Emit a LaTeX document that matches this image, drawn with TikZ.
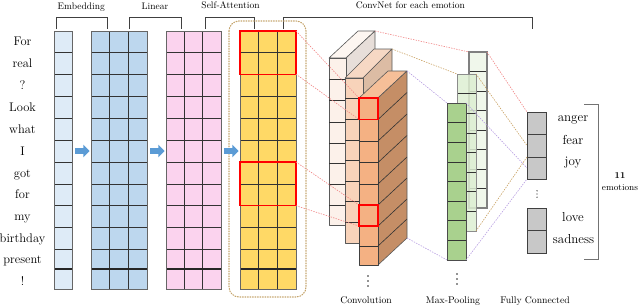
\documentclass[tikz,border=0pt]{standalone}
\usetikzlibrary{calc}
\definecolor{embc}{HTML}{DEEBF7}
\definecolor{linc}{HTML}{BDD7EE}
\definecolor{pinkc}{HTML}{FBD3EE}
\definecolor{yelc}{HTML}{FFD966}
\definecolor{bafront}{HTML}{FCF1EA}
\definecolor{batop}{HTML}{FDF6F1}
\definecolor{baside}{HTML}{E7DED9}
\definecolor{bbfront}{HTML}{F8D3BA}
\definecolor{bbtop}{HTML}{F6D8C4}
\definecolor{bbside}{HTML}{DCBCA4}
\definecolor{bcfront}{HTML}{F4B183}
\definecolor{bctop}{HTML}{F6BF98}
\definecolor{bcside}{HTML}{C58E66}
\definecolor{gac}{HTML}{F0F7EB}
\definecolor{gbc}{HTML}{DDEED2}
\definecolor{gcc}{HTML}{A9D18E}
\definecolor{fcc}{HTML}{C8C8C8}
\definecolor{reddash}{HTML}{F08585}
\definecolor{tandash}{HTML}{C8A060}
\definecolor{purpdash}{HTML}{B49AE0}
\definecolor{arrowc}{HTML}{5B9BD5}
\definecolor{attc}{HTML}{C4A46C}
\newcommand\hlines[3]{\edef\myylist{#3}\foreach \yy in \myylist \draw[gridln] (#1,\yy) -- (#2,\yy);}
\newcommand\vlines[3]{\edef\myxlist{#3}\foreach \xx in \myxlist \draw[gridln] (\xx,#1) -- (\xx,#2);}
\newcommand\dotcol[2]{\foreach \dd in {-5,0,5} \fill[black!85] (#1,#2+\dd) circle (0.85pt);}
\begin{document}
\begin{tikzpicture}[x=1pt,y=-1pt,
  colfill/.style={inner sep=0pt, outer sep=0pt, anchor=north west},
  colborder/.style={draw=black!60, line width=0.9pt},
  gridln/.style={black!80, line width=0.6pt},
  bracketln/.style={draw=black!75, line width=0.8pt},
  toplabel/.style={font=\fontsize{9.5}{11}\selectfont, inner sep=0pt, anchor=base},
  botlabel/.style={font=\fontsize{9.7}{11}\selectfont, inner sep=0pt, anchor=base},
  word/.style={font=\fontsize{12.5}{14}\selectfont, inner sep=0pt, anchor=base},
  emo/.style={font=\fontsize{13}{15}\selectfont, inner sep=0pt, anchor=base},
  redbox/.style={draw=red, line width=1.4pt, inner sep=0pt, outer sep=0pt, anchor=north west},
  conn/.style={line width=0.6pt, dash pattern=on 1.4pt off 1.2pt},
  blockln/.style={draw=black!65, line width=0.6pt, line join=round},
  fcbox/.style={draw=black!75, line width=0.8pt, fill=fcc, inner sep=0pt, outer sep=0pt, anchor=north west, minimum width=19pt},
]
\useasboundingbox (0,0) rectangle (640,306);

% ---------- top brackets and labels
\draw[bracketln] (56,29) -- (56,17) -- (107,17) -- (107,29);
\draw[bracketln] (129,29) -- (129,17) -- (181,17) -- (181,29);
\draw[bracketln] (205,29) -- (205,17) -- (254,17) -- (254,29);
\draw[bracketln] (283,29) -- (283,17) -- (532,17) -- (532,29);
\node[toplabel] (lemb) at (81.3,9) {Embedding};
\node[toplabel] (llin) at (155,9) {Linear};
\node[toplabel] (latt) at (230.5,8.5) {Self-Attention};
\node[toplabel] (lcnn) at (410.3,8.5) {ConvNet for each emotion};

% ---------- words
\foreach \w/\yb [count=\i] in {For/45.7,real/67.3,?/89.1,Look/111,what/133,I/155,got/177,for/198.9,my/220.6,birthday/242.3,present/263,!/285}
  \node[word] (w\i) at (22.5,\yb) {\w};

% ---------- attention dotted frame
\draw[attc, line width=1.1pt, dash pattern=on 0.9pt off 1.6pt, line cap=round, rounded corners=10pt] (229,21) rectangle (306,297);

\def\rowsY{52.5,74.2,96,118,140,162,184,205.7,227.5,249}
% ---------- embedding
\node[colfill, fill=embc, minimum width=18pt, minimum height=258pt] (emb) at (54,31) {};
\hlines{54}{72}{\rowsY}
\draw[black!85, line width=1.1pt] (54,269) -- (72,269);
\draw[colborder] (emb.north west) rectangle (emb.south east);
% ---------- linear
\node[colfill, fill=linc, minimum width=56pt, minimum height=258pt] (lin) at (91,31) {};
\hlines{91}{147}{\rowsY}
\vlines{31}{289}{109.7,128.3}
\draw[black!85, line width=1.1pt] (91,269) -- (147,269);
\draw[colborder] (lin.north west) rectangle (lin.south east);
% ---------- pink
\node[colfill, fill=pinkc, minimum width=55pt, minimum height=258pt] (pnk) at (166,31) {};
\hlines{166}{221}{\rowsY}
\vlines{31}{289}{184.3,202.7}
\draw[black!85, line width=1.1pt] (166,269) -- (221,269);
\draw[colborder] (pnk.north west) rectangle (pnk.south east);
% ---------- yellow
\node[colfill, fill=yelc, minimum width=56pt, minimum height=258pt] (yel) at (240,31) {};
\hlines{240}{296}{\rowsY}
\vlines{31}{289}{258.7,277.3}
\draw[black!85, line width=1.1pt] (240,269) -- (296,269);
\draw[colborder] (yel.north west) rectangle (yel.south east);
\node[redbox, minimum width=56pt, minimum height=43.2pt] (ra) at (240,31) {};
\node[redbox, minimum width=56pt, minimum height=43.7pt] (rb) at (240,162) {};

% ---------- blue arrows
\foreach \ax [count=\i] in {75,150,224}{
  \coordinate (ar\i) at (\ax,151);
  \fill[arrowc] (ar\i) ++(0,-2.8) -- ++(8.3,0) -- ++(0,-3.5) -- ++(6.2,6.3) -- ++(-6.2,6.3) -- ++(0,-3.5) -- ++(-8.3,0) -- cycle;
}

% ---------- convolution blocks (back)
\filldraw[blockln, fill=batop] (329,58) -- (346,58) -- (375,31) -- (358,31) -- cycle;
\filldraw[blockln, fill=baside] (346,58) -- (375,31) -- (375,198) -- (346,225) -- cycle;
\filldraw[blockln, fill=bafront] (329,58) rectangle (346,225);
\hlines{329}{346}{79,100,122,143,163,184,205}
% (middle)
\filldraw[blockln, fill=bbtop] (345,78) -- (363,78) -- (392,49) -- (374,49) -- cycle;
\filldraw[blockln, fill=bbside] (363,78) -- (392,49) -- (392,214) -- (363,243) -- cycle;
\filldraw[blockln, fill=bbfront] (345,78) rectangle (363,243);
\hlines{345}{363}{98.6,119.2,139.9,160.5,181.1,201.7,222.4}
% (front)
\filldraw[blockln, fill=bctop] (359,98) -- (378,98) -- (407,71) -- (388,71) -- cycle;
\filldraw[blockln, fill=bcside] (378,98) -- (407,71) -- (407,238) -- (378,265) -- cycle;
\filldraw[blockln, draw=black!75, fill=bcfront] (359,98) rectangle (378,265);
\hlines{359}{378}{119.5,141,162.5,184,205,226,246}
\foreach \yy in {119.5,141,162.5,184,205,226,246}
  \draw[gridln] (378,\yy) -- ++(29,-27);
\coordinate (batr) at (375,31);
\coordinate (bbtr) at (392,49);
\coordinate (bctr) at (407,71);
\coordinate (bcbr) at (407,238);

% ---------- max pooling columns
\node[colfill, fill=gac, minimum width=18pt, minimum height=156pt] (ga) at (469,52) {};
\hlines{469}{487}{71.5,91,110.5,130,149.5,169,188.5}
\draw[black!50, line width=1.2pt] (ga.north west) rectangle (ga.south east);
\node[colfill, fill=gbc, fill opacity=0.85, minimum width=19pt, minimum height=157pt] (gb) at (457,74) {};
\hlines{457}{476}{93.6,113.2,132.8,152.4,172,191.6,211.2}
\draw[black!45, line width=1pt] (gb.north west) rectangle (gb.south east);
\node[colfill, fill=gcc, minimum width=19pt, minimum height=157pt] (gc) at (447,103) {};
\hlines{447}{466}{122.6,142.2,161.8,181.4,201,220.6,240.2}
\draw[black!70, line width=0.9pt] (gc.north west) rectangle (gc.south east);

% ---------- fully connected
\node[fcbox, minimum height=22pt] (fa) at (527,112) {};
\node[fcbox, minimum height=23pt] (fb) at (527,134) {};
\node[fcbox, minimum height=22pt] (fcx) at (527,157) {};
\node[fcbox, minimum height=22pt] (fd) at (527,208) {};
\node[fcbox, minimum height=23pt] (fe) at (527,230) {};

% ---------- connectors
\draw[conn, reddash] (ra.north east) -- (359,98);
\draw[conn, reddash] (ra.south east) -- (359,119.5);
\draw[conn, reddash] (rb.north east) -- (359,205);
\draw[conn, reddash] (rb.south east) -- (359,226);
\draw[conn, reddash] (batr) -- (ga.north west);
\draw[conn, reddash] (ga.north east) -- (fa.north west);
\draw[conn, tandash] (bbtr) -- (gb.north west);
\draw[conn, tandash] (gb.north east) -- (fb.west);
\draw[conn, tandash] (gb.south east) -- (fb.south west);
\draw[conn, purpdash] (bctr) -- (gc.north west);
\draw[conn, purpdash] (bcbr) -- (gc.south west);
\draw[conn, purpdash] (gc.north east) -- (fcx.west);
\draw[conn, purpdash] (gc.south east) -- (fcx.south west);

% red squares on conv
\node[redbox, minimum width=19pt, minimum height=21.5pt] (rsa) at (359,98) {};
\node[redbox, minimum width=19pt, minimum height=21pt] (rsb) at (359,205) {};

% ---------- dots
\dotcol{368}{281}
\dotcol{457}{279}
\foreach \dd in {-3.2,0,3.2} \fill[black!85] (537,194+\dd) circle (0.7pt);

% ---------- emotion labels
\node[emo] (e1) at (573,121.5) {anger};
\node[emo] (e2) at (573,144) {fear};
\node[emo] (e3) at (573,165.5) {joy};
\node[emo] (e4) at (573,221.5) {love};
\node[emo] (e5) at (573.5,243.5) {sadness};
\draw[black!55, line width=0.9pt] (584,104) -- (598,104) -- (598,259) -- (584,259);
\node[font=\fontsize{9}{10}\selectfont\bfseries, inner sep=0pt] (n11) at (620,176) {11};
\node[font=\fontsize{9}{10}\selectfont, inner sep=0pt] (nem) at (620,187.5) {emotions};

% ---------- bottom labels
\node[botlabel] (bconv) at (366,303.5) {Convolution};
\node[botlabel] (bpool) at (453,303.5) {Max-Pooling};
\node[botlabel] (bfc) at (535,303.5) {Fully Connected};
\end{tikzpicture}
\end{document}
